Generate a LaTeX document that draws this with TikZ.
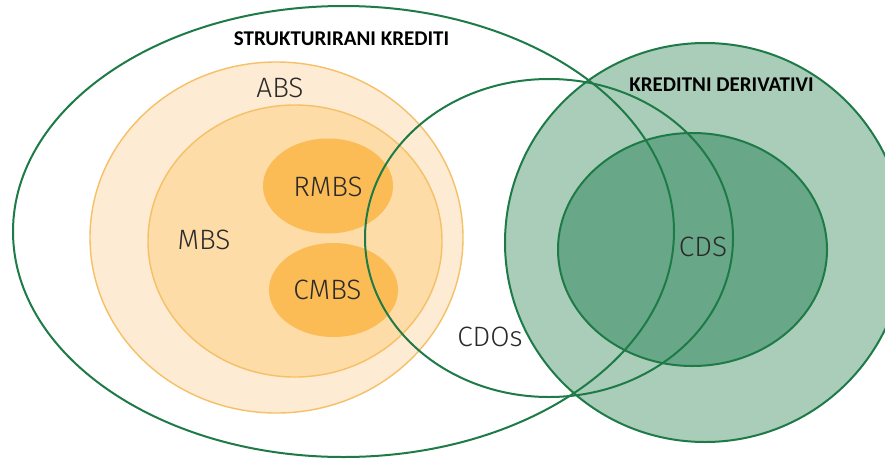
\documentclass[tikz,border=0pt]{standalone}
\usepackage{fontspec}
\setmainfont{Carlito}
\newfontfamily\lblfont{Fira Sans Light}
\usetikzlibrary{shapes.geometric}

\definecolor{greenline}{HTML}{1E7B48}
\definecolor{greenlight}{HTML}{A9CDB8}
\definecolor{greendark}{HTML}{68A888}
\definecolor{orangeline}{HTML}{F5C066}
\definecolor{absfill}{HTML}{FEEBD3}
\definecolor{mbsfill}{HTML}{FDDCA8}
\definecolor{corefill}{HTML}{FBBC55}
\definecolor{labelgrey}{HTML}{2A2A2A}

\tikzset{
  set/.style={ellipse, inner sep=0pt, outer sep=0pt},
  greenset/.style={set, draw=greenline, line width=2pt},
  orangeset/.style={set, draw=orangeline, line width=1.4pt},
  coreset/.style={set, fill=corefill},
  title/.style={font=\bfseries\fontsize{21}{23}\selectfont, text=black, inner sep=0pt},
  lbl/.style={font=\lblfont\fontsize{28}{30}\selectfont, text=labelgrey, inner sep=0pt},
}

\begin{document}
\begin{tikzpicture}[x=1pt, y=-1pt]
  \useasboundingbox (0,0) rectangle (885,463);
  \fill[white] (0,0) rectangle (885,463);
  \clip (0,0) rectangle (885,463);

  % orange family of sets
  \node[orangeset, fill=absfill, minimum width=373pt, minimum height=351pt] (abs) at (276.5,237.5) {};
  \node[orangeset, fill=mbsfill, minimum width=294pt, minimum height=272pt] (mbs) at (295,241) {};
  \node[coreset, minimum width=130pt, minimum height=95pt] (rmbs) at (328,186) {};
  \node[coreset, minimum width=129pt, minimum height=94pt] (cmbs) at (333.5,290) {};

  % credit derivatives
  \node[greenset, fill=greenlight, minimum width=400pt, minimum height=399pt] (deriv) at (705,242.5) {};
  \node[greenset, fill=greendark, minimum width=269pt, minimum height=233pt] (cds) at (692.5,249.5) {};

  % outline-only sets drawn on top
  \node[greenset, minimum width=661pt, minimum height=451pt] (struct) at (343.5,231.5) {};
  \node[greenset, minimum width=368pt, minimum height=318pt] (cdos) at (549,238) {};

  % labels
  \node[title] (structlbl) at (341.5,39) {STRUKTURIRANI KREDITI};
  \node[title] (derivlbl) at (721.5,85) {KREDITNI DERIVATIVI};
  \node[lbl] (abslbl) at (280,88) {ABS};
  \node[lbl] (mbslbl) at (204,240) {MBS};
  \node[lbl] (rmbslbl) at (328,187) {RMBS};
  \node[lbl] (cmbslbl) at (327.5,290) {CMBS};
  \node[lbl] (cdoslbl) at (490,337) {CDOs};
  \node[lbl] (cdslbl) at (703,247) {CDS};
\end{tikzpicture}
\end{document}
